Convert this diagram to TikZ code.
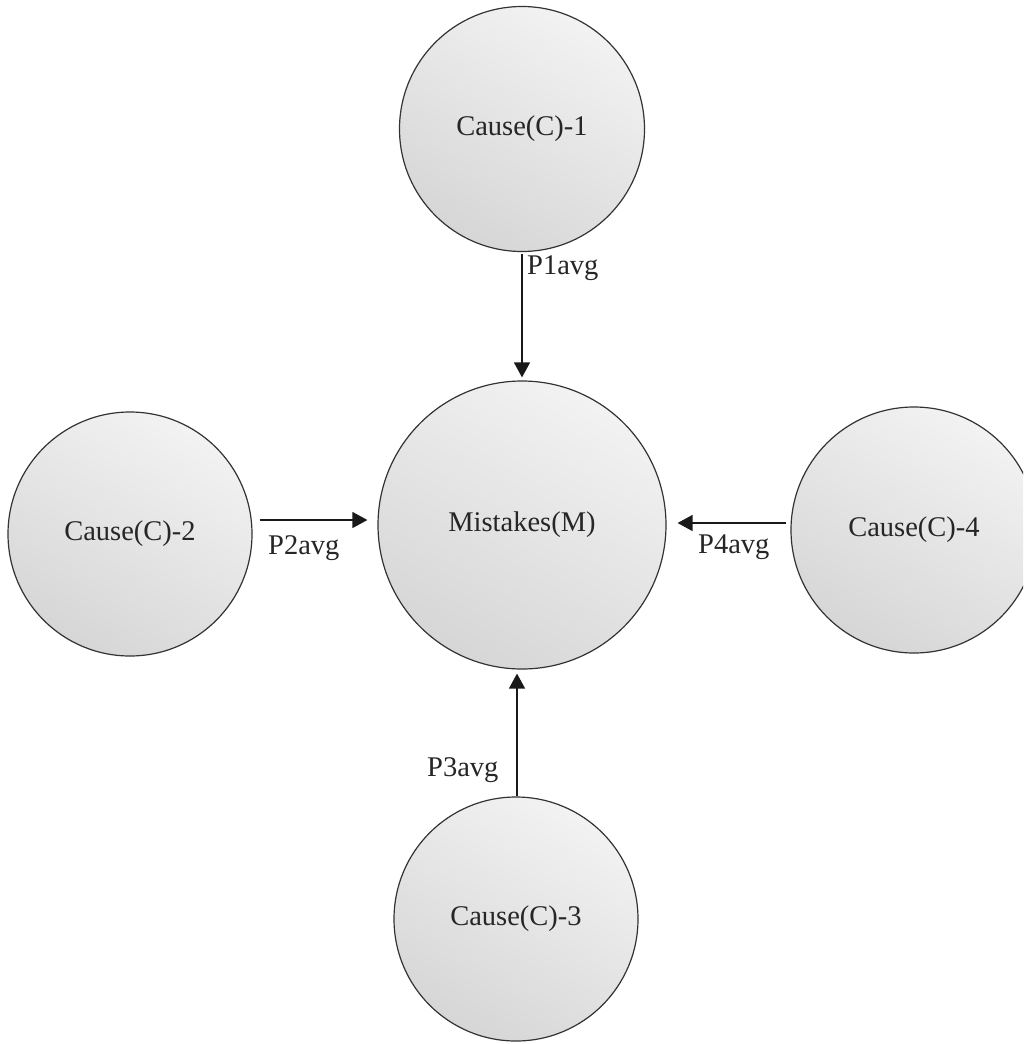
\documentclass[tikz,border=0pt]{standalone}
\usepackage{fontspec}
\setmainfont{Liberation Serif}
\usetikzlibrary{arrows.meta}
\tikzset{
  cause/.style={circle, draw=black!80, line width=1.2pt, inner sep=0pt,
    top color=white!95!black, bottom color=white!84!black, shading angle=-30,
    font=\fontsize{28.5}{33}\selectfont, text=black!85},
  flow/.style={-{Triangle[length=15pt,width=16pt]}, line width=1.3pt, black!90},
  plabel/.style={font=\fontsize{28.5}{33}\selectfont, text=black!85, inner sep=0pt}
}
\begin{document}
\begin{tikzpicture}[x=1pt,y=-1pt]
  \clip (0,0) rectangle (1023,1044);
  \fill[white] (0,0) rectangle (1023,1044);

  % central node and the four causes around it
  \node[cause, minimum size=288pt] (m) at (522,525) {Mistakes(M)};
  \node[cause, minimum size=245pt] (c1) at (522,129) {Cause(C)-1};
  \node[cause, minimum size=244pt] (c2) at (130,534) {Cause(C)-2};
  \node[cause, minimum size=244pt] (c3) at (516,919) {Cause(C)-3};
  \node[cause, minimum size=246pt] (c4) at (914,530) {Cause(C)-4};

  % connectors
  \draw[flow, shorten <=2pt, shorten >=3pt] (c1.south) -- (m.north);
  \draw[flow, shorten <=7pt, shorten >=10pt] ([yshift=14pt]c2.east) -- ([yshift=5pt]m.west);
  \draw[flow, shorten <=4pt, shorten >=11pt] ([yshift=7pt]c4.west) -- ([yshift=2pt]m.east);
  \draw[flow, shorten <=0pt, shorten >=4pt] ([xshift=1pt]c3.north) -- ([xshift=-5pt]m.south);

  % connector labels
  \node[plabel, anchor=west] (p1) at (527,268) {P1avg};
  \node[plabel, anchor=west] (p2) at (268,548) {P2avg};
  \node[plabel, anchor=west] (p4) at (698,547) {P4avg};
  \node[plabel, anchor=west] (p3) at (427,770) {P3avg};
\end{tikzpicture}
\end{document}
